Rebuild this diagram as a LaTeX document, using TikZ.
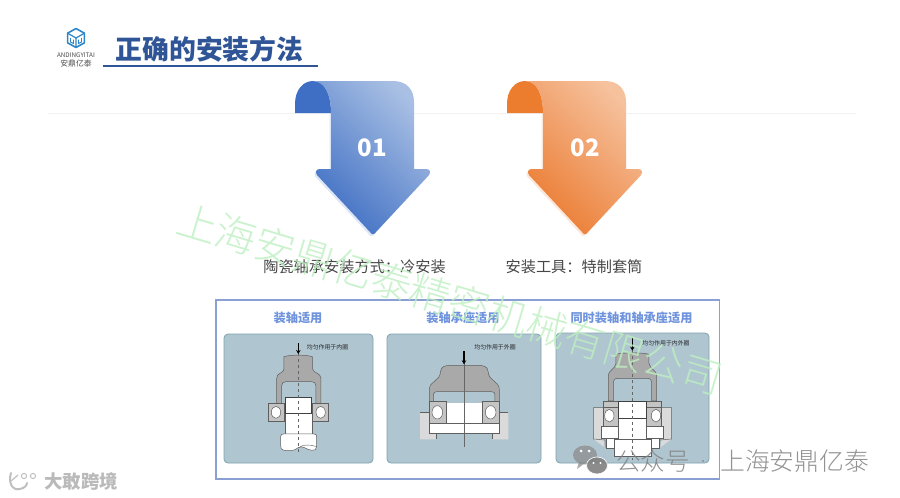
\documentclass[tikz,border=0pt]{standalone}
\usepackage{fontspec}
\newfontfamily\cjk{Noto Sans CJK SC}
\newfontfamily\cjklight{Noto Sans CJK SC Light}
\usetikzlibrary{arrows.meta}
\definecolor{titleblue}{HTML}{2F5597}
\definecolor{panelfill}{HTML}{AFC5D0}
\definecolor{paneledge}{HTML}{7FA3AE}
\definecolor{frameblue}{HTML}{8A9FD2}
\definecolor{headblue}{HTML}{6F93DC}
\definecolor{capgray}{HTML}{A9A9A9}
\definecolor{ringgray}{HTML}{C4C4C4}
\definecolor{housegray}{HTML}{DADADA}
\definecolor{partline}{HTML}{5F5F5F}
\definecolor{wmgreen}{HTML}{BDEFC0}
\definecolor{logoblue}{HTML}{2E86C8}
\definecolor{bluedark}{HTML}{4170C4}
\definecolor{bluelight}{HTML}{A9C0E4}
\definecolor{bluecurl}{HTML}{3F6FC4}
\definecolor{blueshadow}{HTML}{DCE6F6}
\definecolor{orangedark}{HTML}{EB7C33}
\definecolor{orangelight}{HTML}{F6C29E}
\definecolor{orangecurl}{HTML}{EC7D2F}
\definecolor{orangeshadow}{HTML}{FBE6D8}
\newcommand{\fs}[1]{\fontsize{#1}{#1}\selectfont}
\tikzset{
  panel/.style={draw=paneledge,fill=panelfill,line width=0.8pt,rounded corners=4pt},
  panelhead/.style={text=headblue,font=\cjk\bfseries\fs{12.2},inner sep=0pt},
  forcelabel/.style={text=black!85,font=\cjk\fs{5.9},inner sep=0pt},
  caption/.style={text=black!72,font=\cjk\fs{15.2},inner sep=0pt},
  badge/.style={text=white,font=\cjk\bfseries\fs{24},inner sep=0pt},
  capshape/.style={fill=capgray,draw=partline,line width=0.5pt},
  ringshape/.style={fill=ringgray,draw=partline,line width=0.5pt},
  whitepart/.style={fill=white,draw=partline,line width=0.5pt},
  sleeve/.style={fill=white,draw=black!75,line width=0.9pt},
  ballshape/.style={fill=white,draw=partline,line width=0.5pt},
  axisline/.style={draw=black!60,line width=0.4pt},
  forcearrow/.style={draw=black,line width=1.3pt,-{Stealth[length=4pt,width=4.5pt]}},
  zoomA/.style={shift={(210pt,-295pt)},x=0.3333pt,y=-0.3333pt},
  zoomB/.style={shift={(380pt,-295pt)},x=0.3333pt,y=-0.3333pt},
  zoomC/.style={shift={(550pt,-295pt)},x=0.3333pt,y=-0.3333pt},
}
\newcommand{\bodypath}{(313,81) -- (393,81) .. controls (407,81) and (414,90) .. (414,102) -- (414,169) -- (426,169) .. controls (430,169) and (431,172) .. (429,175) -- (376,232) .. controls (374,235) and (372,235) .. (370,232) -- (317,175) .. controls (315,172) and (316,169) .. (320,169) -- (331,169) -- (331,113) .. controls (331,95) and (325,81) .. (313,81) -- cycle}
\newcommand{\bentarrow}[5]{% xshift, dark, light, curl, shadow
  \begin{scope}[shift={(#1pt,0pt)}]
    \fill[#5,shift={(-1.5pt,-1.8pt)}] \bodypath;
    \fill[#4] (295,113) -- (295,104) .. controls (295,90) and (303,81) .. (313,81) .. controls (325,81) and (331,95) .. (331,113) -- cycle;
    \shade[top color=#3,bottom color=#2,shading angle=-45] \bodypath;
  \end{scope}}
\begin{document}
\begin{tikzpicture}[x=1pt,y=-1pt]
\useasboundingbox (0,0) rectangle (900,498);
\fill[white] (0,0) rectangle (900,498);
% faint rule
\draw[black!5,line width=0.8pt] (48,113) -- (856,113);
% logo
\begin{scope}[shift={(76pt,-38pt)}]
  \draw[logoblue,line width=1.6pt,line join=round] (0,-9.5) -- (8.4,-4.8) -- (8.4,4.8) -- (0,9.5) -- (-8.4,4.8) -- (-8.4,-4.8) -- cycle;
  \draw[logoblue,line width=1.2pt] (-8.4,-4.8) -- (0,0) -- (8.4,-4.8) (0,0) -- (0,9.5);
  \draw[logoblue,line width=0.9pt] (-5.5,0) -- (-5.5,4) -- (-2.5,5.5) -- (-2.5,1.5) (2.5,1.5) -- (2.5,5.5) -- (5.5,4) -- (5.5,0);
\end{scope}
\node[text=black!70,font=\cjk\fs{6.3},inner sep=0pt] (logoen) at (76,55.3) {ANDINGYITAI};
\node[text=black!70,font=\cjk\fs{7.8},inner sep=0pt] (logocn) at (76,63.5) {安鼎亿泰};
% title
\node[text=titleblue,font=\cjk\bfseries\fs{26.8},inner sep=0pt] (title) at (209.5,49) {正确的安装方法};
\draw[titleblue,line width=1.2pt] (102.5,66) -- (318,66);
% arrows
\bentarrow{0}{bluedark}{bluelight}{bluecurl}{blueshadow}
\bentarrow{212}{orangedark}{orangelight}{orangecurl}{orangeshadow}
\node[badge] (n1) at (372,148) {01};
\node[badge] (n2) at (585,148) {02};
\node[caption] (cap1) at (354.5,267) {陶瓷轴承安装方式：冷安装};
\node[caption] (cap2) at (574,267) {安装工具：特制套筒};
% frame and panels
\draw[frameblue,line width=1.3pt,fill=white] (216,300) rectangle (719.5,479);
\draw[panel] (224,334) rectangle (373,463);
\draw[panel] (387,334) rectangle (541,463);
\draw[panel] (556,333) rectangle (709,463);
\node[panelhead] (h1) at (298,318) {装轴适用};
\node[panelhead] (h2) at (463,318) {装轴承座适用};
\node[panelhead] (h3) at (631.5,318) {同时装轴和轴承座适用};
% panel 1 drawing
\begin{scope}[zoomA]
  \draw[capshape] (222,185) .. controls (240,179) and (290,179) .. (307,185) -- (308,222) .. controls (310,236) and (332,232) .. (333,250) -- (333,325) -- (318,325) -- (318,272) .. controls (318,264) and (312,260) .. (305,260) -- (228,260) .. controls (220,260) and (215,264) .. (215,272) -- (215,325) -- (200,325) -- (200,250) .. controls (200,232) and (221,236) .. (222,222) -- cycle;
  \draw[ringshape] (175,325) rectangle (222,380);
  \draw[ringshape] (308,325) rectangle (355,380);
  \draw[ballshape] (198,352) ellipse [x radius=14,y radius=18];
  \draw[ballshape] (332,352) ellipse [x radius=14,y radius=18];
  \draw[whitepart] (225,355) rectangle (307,417);
  \draw[whitepart] (212,425) .. controls (212,418) and (216,417) .. (220,417) -- (312,417) .. controls (318,417) and (320,420) .. (320,425) -- (320,455) .. controls (320,464) and (314,467) .. (305,466) .. controls (285,463) and (280,450) .. (265,458) .. controls (250,470) and (235,468) .. (222,466) .. controls (214,465) and (212,460) .. (212,452) -- cycle;
  \draw[partline,line width=0.4pt] (265,458) .. controls (280,448) and (300,448) .. (320,455);
  \draw[sleeve] (225,307) rectangle (305,355);
  \draw[axisline,dashed] (264,175) -- (264,475);
  \draw[forcearrow] (265,145) -- (265,177);
\end{scope}
\node[forcelabel] (f1) at (327.5,347) {均匀作用于内圈};
% panel 2 drawing
\begin{scope}[zoomB]
  \fill[housegray] (120,352) -- (148,352) -- (148,415) -- (168,415) -- (168,433) -- (120,433) -- cycle;
  \fill[housegray] (385,352) -- (358,352) -- (358,415) -- (337,415) -- (337,433) -- (385,433) -- cycle;
  \draw[partline,line width=0.5pt] (120,352) -- (148,352) (168,415) -- (168,433) (385,352) -- (358,352) (337,415) -- (337,433);
  \draw[capshape] (182,228) .. controls (184,214) and (195,212) .. (210,211) -- (295,211) .. controls (312,212) and (322,214) .. (324,228) .. controls (326,262) and (358,255) .. (358,285) -- (358,320) -- (345,320) -- (345,300) .. controls (345,293) and (341,290) .. (335,290) -- (170,290) .. controls (164,290) and (160,293) .. (160,300) -- (160,320) -- (148,320) -- (148,285) .. controls (148,255) and (180,262) .. (182,228) -- cycle;
  \draw[whitepart] (148,385) rectangle (358,415);
  \draw[ringshape] (148,320) rectangle (200,385);
  \draw[ringshape] (306,320) rectangle (358,385);
  \fill[white] (200.5,323) rectangle (305.5,384.5);
  \draw[ballshape] (172,352) ellipse [x radius=16,y radius=20];
  \draw[ballshape] (332,352) ellipse [x radius=16,y radius=20];
  \draw[axisline] (252,205) -- (252,455);
  \draw[forcearrow] (252,168) -- (252,208);
\end{scope}
\node[forcelabel] (f2) at (495,347) {均匀作用于外圈};
% panel 3 drawing
\begin{scope}[zoomC]
  \fill[housegray] (130,338) -- (160,338) -- (160,432) -- (165,458) -- (130,432) -- cycle;
  \fill[housegray] (365,338) -- (335,338) -- (335,432) -- (330,458) -- (365,432) -- cycle;
  \draw[partline,line width=0.5pt] (130,338) -- (130,432) -- (165,435) -- (165,458) (365,338) -- (365,432) -- (330,435) -- (330,458) (130,338) -- (160,338) (335,338) -- (365,338);
  \draw[capshape] (198,178) .. controls (215,172) and (280,172) .. (297,178) -- (297,205) .. controls (300,225) and (320,222) .. (320,245) -- (320,318) -- (305,318) -- (305,262) .. controls (305,254) and (300,250) .. (295,250) -- (200,250) .. controls (195,250) and (190,254) .. (190,262) -- (190,318) -- (175,318) -- (175,245) .. controls (175,222) and (195,225) .. (198,205) -- cycle;
  \draw[ringshape] (160,318) rectangle (205,338);
  \draw[ringshape] (290,318) rectangle (335,338);
  \draw[ringshape] (160,338) rectangle (205,395);
  \draw[ringshape] (290,338) rectangle (335,395);
  \draw[ballshape] (178,362) ellipse [x radius=14,y radius=19];
  \draw[ballshape] (318,362) ellipse [x radius=14,y radius=19];
  \draw[whitepart] (155,395) rectangle (205,430);
  \draw[whitepart] (290,395) rectangle (340,430);
  \draw[whitepart] (168,430) rectangle (205,460);
  \draw[whitepart] (290,430) rectangle (327,460);
  \draw[whitepart] (205,370) rectangle (290,432);
  \draw[whitepart] (192,432) -- (303,432) -- (303,485) -- (192,485) -- cycle;
  \draw[sleeve] (206,320) rectangle (290,370);
  \draw[axisline,dashed] (247,165) -- (247,495);
  \draw[forcearrow] (247,130) -- (247,167);
\end{scope}
\node[forcelabel] (f3) at (666,343.5) {均匀作用于内外圈};
% watermark
\node[text=wmgreen,font=\cjklight\fs{40.5},inner sep=0pt,rotate=-16.7,opacity=0.8] (wm) at (450,299) {上海安鼎亿泰精密机械有限公司};
% wechat mark
\fill[black!45,opacity=0.75] (585,455) ellipse [x radius=12,y radius=9.5];
\fill[black!45,opacity=0.75] (579,462) -- (577,469) -- (585,463) -- cycle;
\draw[white,fill=black!50,line width=0.7pt,opacity=0.9] (597,465.5) ellipse [x radius=10.5,y radius=8.5];
\fill[white] (581,451) circle (1.5) (589,451) circle (1.5) (593.5,463) circle (1.2) (600.5,463) circle (1.2);
\node[text=black!50,font=\cjklight\fs{24.5},inner sep=0pt,anchor=west,opacity=0.85] (wx) at (616,461) {公众号};
\fill[black!45] (703,461) circle (1.2);
\node[text=black!50,font=\cjklight\fs{24.8},inner sep=0pt,anchor=west,opacity=0.85] (wx2) at (720,461) {上海安鼎亿泰};
% bottom-left mark
\draw[black!25,line width=2pt,line cap=round] (11,473) .. controls (8,482) and (12,491) .. (20,489) .. controls (25,488) and (27,485) .. (27,483);
\draw[black!25,line width=1.2pt] (11,481) -- (18,475);
\draw[black!25,line width=1pt] (24,476) circle (2.6) (33,476) circle (2.6);
\node[text=black!27,font=\cjk\bfseries\fs{18.4},inner sep=0pt] (dg) at (81,481) {大敢跨境};
\end{tikzpicture}
\end{document}
